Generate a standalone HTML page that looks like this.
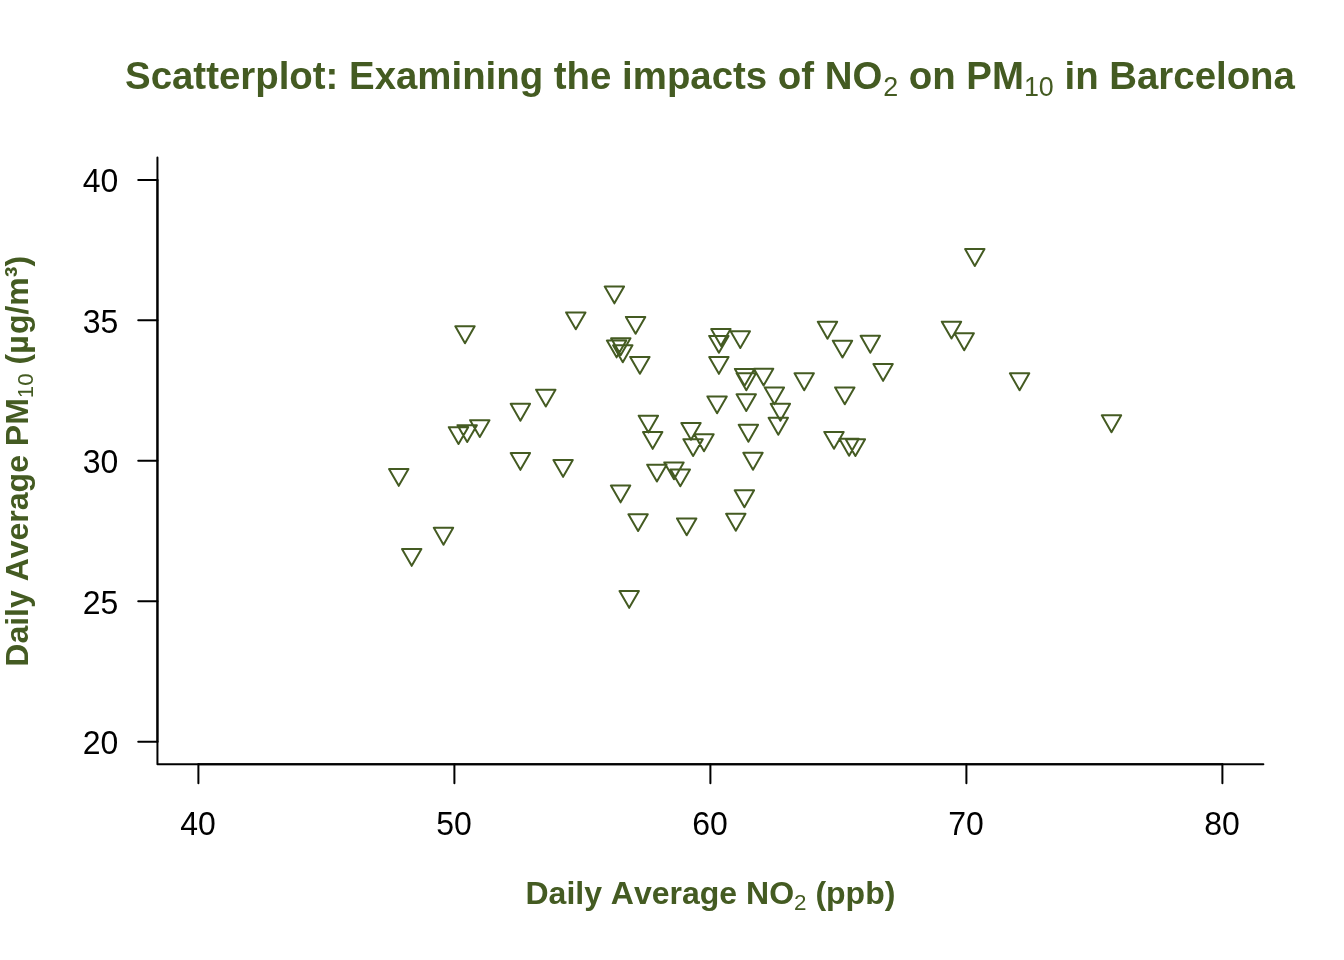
<!DOCTYPE html>
<html lang="en"><head><meta charset="utf-8"><title>Scatterplot</title>
<style>
html,body{margin:0;padding:0;background:#fff;}
body{width:1344px;height:960px;overflow:hidden;}
svg{display:block;}
text{font-family:"Liberation Sans",Arial,Helvetica,sans-serif;font-kerning:none;}
.lab{fill:#445b22;font-weight:bold;}
.sub{font-weight:normal;}
.tk{fill:#000;font-size:32px;}
</style></head><body>
<svg width="1344" height="960" viewBox="0 0 1344 960">
<rect width="1344" height="960" fill="#fff"/>
<text class="lab" x="710.0" y="89.2" text-anchor="middle" font-size="38.4">Scatterplot: Examining the impacts of NO<tspan class="sub" font-size="26.88" dx="0.8" dy="6.9">2</tspan><tspan dy="-6.9"> on PM</tspan><tspan class="sub" font-size="26.88" dy="6.9">10</tspan><tspan dy="-6.9"> in Barcelona</tspan></text>
<text class="lab" x="710.4" y="904" text-anchor="middle" font-size="32">Daily Average NO<tspan class="sub" font-size="22.4" dy="5.75">2</tspan><tspan dy="-5.75"> (ppb)</tspan></text>
<text class="lab" transform="translate(27.5 461.3) rotate(-90)" x="0" y="0" text-anchor="middle" font-size="32">Daily Average PM<tspan class="sub" font-size="22.4" dy="5.75">10</tspan><tspan dy="-5.75"> (µ</tspan><tspan dx="1.2">g/m³)</tspan></text>
<g fill="none" stroke="#000" stroke-width="2" stroke-linecap="round" stroke-linejoin="round">
<path d="M157.44 157.44V764.16H1263.36"/>
<path d="M198.4 764.16H1222.4"/>
<path d="M157.44 179.91V741.69"/>
<path d="M198.40 764.16V783.36M454.40 764.16V783.36M710.40 764.16V783.36M966.40 764.16V783.36M1222.40 764.16V783.36M157.44 179.91H138.24M157.44 320.36H138.24M157.44 460.80H138.24M157.44 601.24H138.24M157.44 741.69H138.24"/>
</g>
<text class="tk" transform="translate(198.10 834.7) scale(1 1.045)" text-anchor="middle">40</text>
<text class="tk" transform="translate(454.10 834.7) scale(1 1.045)" text-anchor="middle">50</text>
<text class="tk" transform="translate(710.10 834.7) scale(1 1.045)" text-anchor="middle">60</text>
<text class="tk" transform="translate(966.10 834.7) scale(1 1.045)" text-anchor="middle">70</text>
<text class="tk" transform="translate(1222.10 834.7) scale(1 1.045)" text-anchor="middle">80</text>
<text class="tk" transform="translate(118.4 192.31) scale(1 1.045)" text-anchor="end">40</text>
<text class="tk" transform="translate(118.4 332.76) scale(1 1.045)" text-anchor="end">35</text>
<text class="tk" transform="translate(118.4 473.20) scale(1 1.045)" text-anchor="end">30</text>
<text class="tk" transform="translate(118.4 613.64) scale(1 1.045)" text-anchor="end">25</text>
<text class="tk" transform="translate(118.4 754.09) scale(1 1.045)" text-anchor="end">20</text>
<path d="M455.30 326.35H474.70L465.00 343.15ZM566.10 312.45H585.50L575.80 329.25ZM604.70 286.55H624.10L614.40 303.35ZM625.90 316.95H645.30L635.60 333.75ZM611.10 338.25H630.50L620.80 355.05ZM606.90 340.55H626.30L616.60 357.35ZM613.10 345.35H632.50L622.80 362.15ZM630.20 356.95H649.60L639.90 373.75ZM536.10 389.65H555.50L545.80 406.45ZM510.70 403.85H530.10L520.40 420.65ZM470.10 420.15H489.50L479.80 436.95ZM457.50 425.15H476.90L467.20 441.95ZM448.80 427.15H468.20L458.50 443.95ZM638.70 415.65H658.10L648.40 432.45ZM389.05 469.05H408.45L398.75 485.85ZM510.70 453.05H530.10L520.40 469.85ZM553.40 460.05H572.80L563.10 476.85ZM610.90 485.55H630.30L620.60 502.35ZM628.40 514.25H647.80L638.10 531.05ZM433.80 527.85H453.20L443.50 544.65ZM402.00 549.05H421.40L411.70 565.85ZM619.50 591.05H638.90L629.20 607.85ZM711.20 329.05H730.60L720.90 345.85ZM709.20 335.95H728.60L718.90 352.75ZM730.60 331.25H750.00L740.30 348.05ZM709.20 357.05H728.60L718.90 373.85ZM734.90 368.95H754.30L744.60 385.75ZM736.60 373.35H756.00L746.30 390.15ZM753.90 368.75H773.30L763.60 385.55ZM764.70 387.45H784.10L774.40 404.25ZM770.70 403.85H790.10L780.40 420.65ZM768.60 417.85H788.00L778.30 434.65ZM794.50 373.35H813.90L804.20 390.15ZM817.80 321.85H837.20L827.50 338.65ZM832.80 340.65H852.20L842.50 357.45ZM860.60 335.85H880.00L870.30 352.65ZM873.40 364.05H892.80L883.10 380.85ZM835.10 387.45H854.50L844.80 404.25ZM707.40 396.45H726.80L717.10 413.25ZM736.55 394.25H755.95L746.25 411.05ZM738.70 424.85H758.10L748.40 441.65ZM743.30 452.85H762.70L753.00 469.65ZM643.00 432.05H662.40L652.70 448.85ZM681.30 423.05H700.70L691.00 439.85ZM694.30 434.35H713.70L704.00 451.15ZM683.40 439.15H702.80L693.10 455.95ZM824.30 431.95H843.70L834.00 448.75ZM839.40 438.85H858.80L849.10 455.65ZM845.70 439.15H865.10L855.40 455.95ZM647.20 464.65H666.60L656.90 481.45ZM664.30 462.45H683.70L674.00 479.25ZM670.60 469.45H690.00L680.30 486.25ZM734.70 490.35H754.10L744.40 507.15ZM677.00 518.45H696.40L686.70 535.25ZM726.10 513.85H745.50L735.80 530.65ZM965.10 249.10H984.50L974.80 265.90ZM941.80 321.65H961.20L951.50 338.45ZM954.50 333.35H973.90L964.20 350.15ZM1009.90 373.35H1029.30L1019.60 390.15ZM1101.80 415.35H1121.20L1111.50 432.15Z" fill="none" stroke="#445b22" stroke-width="2" stroke-linejoin="round"/>
</svg></body></html>
